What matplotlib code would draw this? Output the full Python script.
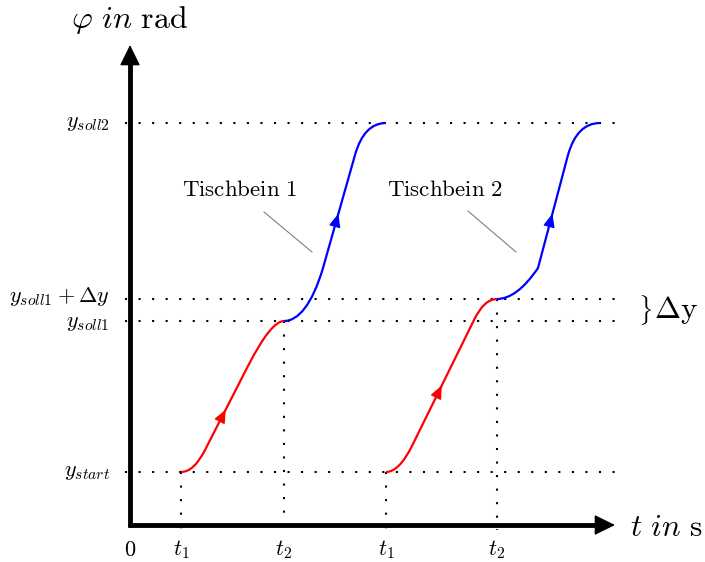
import numpy as np
import matplotlib
matplotlib.use("Agg")
import matplotlib.pyplot as plt
from matplotlib.path import Path
from matplotlib.patches import PathPatch

plt.rcParams['mathtext.fontset'] = 'cm'

# time ticks along the t axis and their labels
t_ticks = [0, 51, 154, 256, 367]
t_labels = [r'$0$', r'$t_1$', r'$t_2$', r'$t_1$', r'$t_2$']

# angle levels on the phi axis
y_levels = [53, 204, 226, 402]
y_labels = [r'$y_{start}$', r'$y_{soll1}$', r'$y_{soll1} + \Delta y$', r'$y_{soll2}$']

# curve control points (start, ramp-in, straight part, ramp-out)
red1 = [(51, 53), (64, 53), (75, 75), (118, 159), (141, 204), (154, 204)]
blue1 = [(154, 204), (168, 204), (182, 220), (193, 257), (225, 370), (234, 402), (256, 402)]
red2 = [(256, 53), (269, 53), (282, 79), (344, 205), (354, 226), (367, 226)]
blue2 = [(367, 226), (387, 226), (408, 257), (438, 370), (447, 402), (470, 402)]

Q = [Path.MOVETO, Path.CURVE3, Path.CURVE3, Path.LINETO, Path.CURVE3, Path.CURVE3]
C = [Path.MOVETO, Path.CURVE4, Path.CURVE4, Path.CURVE4, Path.LINETO, Path.CURVE3, Path.CURVE3]

curves = [(red1, Q, 'red'), (blue1, C, 'blue'), (red2, Q, 'red'), (blue2, Q, 'blue')]

fig = plt.figure(figsize=(7.05, 5.62), dpi=100)
ax = fig.add_axes([0, 0, 1, 1])
ax.set_xlim(-130, 575)
ax.set_ylim(-37, 525)
ax.axis('off')

dots = (0, (1, 5.5))
x_end = 485
y_end = 480

# horizontal guide lines
for y in y_levels:
    ax.plot([-5, x_end], [y, y], color='black', lw=1.5, linestyle=dots, zorder=1)

# vertical guide lines down to the t axis
ax.plot([t_ticks[1]] * 2, [y_levels[0], -5], color='black', lw=1.5, linestyle=dots, zorder=1)
ax.plot([t_ticks[2]] * 2, [y_levels[1], -5], color='black', lw=1.5, linestyle=dots, zorder=1)
ax.plot([t_ticks[3]] * 2, [y_levels[0], -5], color='black', lw=1.5, linestyle=dots, zorder=1)
ax.plot([t_ticks[4]] * 2, [y_levels[2], -5], color='black', lw=1.5, linestyle=dots, zorder=1)

# curves with direction arrows on the straight part
for pts, codes, col in curves:
    ax.add_patch(PathPatch(Path(pts, codes), fill=False, edgecolor=col, lw=1.6, zorder=3))
    i = codes.index(Path.LINETO)
    p0 = np.array(pts[i - 1], float)
    p1 = np.array(pts[i], float)
    d = (p1 - p0) / np.linalg.norm(p1 - p0)
    tip = p0 + 0.48 * (p1 - p0)
    ax.annotate('', xy=tip, xytext=tip - d * 4,
                arrowprops=dict(arrowstyle='-|>,head_length=0.8,head_width=0.35',
                                color=col, lw=1.0, shrinkA=0, shrinkB=0,
                                mutation_scale=10), zorder=4)

# axes with arrow heads
ax.plot([0, 0], [-2, y_end - 8], color='black', lw=3.5, solid_capstyle='butt', zorder=5)
ax.plot([-2, x_end - 8], [0, 0], color='black', lw=3.5, solid_capstyle='butt', zorder=5)
ax.annotate('', xy=(0, y_end), xytext=(0, y_end - 12),
            arrowprops=dict(arrowstyle='-|>,head_length=0.65,head_width=0.32',
                            color='black', lw=1, shrinkA=0, shrinkB=0, mutation_scale=20), zorder=6)
ax.annotate('', xy=(x_end, 0), xytext=(x_end - 12, 0),
            arrowprops=dict(arrowstyle='-|>,head_length=0.65,head_width=0.32',
                            color='black', lw=1, shrinkA=0, shrinkB=0, mutation_scale=20), zorder=6)

# tick labels
for t, lab in zip(t_ticks, t_labels):
    ax.text(t, -25, lab, ha='center', va='center', fontsize=16)
nudge = [0, -2, 2, 0]
for y, lab, dy in zip(y_levels, y_labels, nudge):
    ax.text(-20, y + dy, lab, ha='right', va='center', fontsize=16)

# axis titles
ax.text(0, 505, r'$\varphi\ in\ \mathrm{rad}$', ha='center', va='center', fontsize=23)
ax.text(500, -2, r'$t\ in\ \mathrm{s}$', ha='left', va='center', fontsize=22.5)

# labels for the two table legs
ax.text(110, 335, r'$\mathrm{Tischbein\ 1}$', ha='center', va='center', fontsize=16.5)
ax.plot([134, 182], [313, 273], color='gray', lw=0.8)
ax.text(315, 335, r'$\mathrm{Tischbein\ 2}$', ha='center', va='center', fontsize=16.5)
ax.plot([338, 386], [314, 273], color='gray', lw=0.8)

# brace for delta y
ax.text(515, 215, r'$\}$', ha='center', va='center', fontsize=18)
ax.text(524, 215, r'$\Delta\mathrm{y}$', ha='left', va='center', fontsize=22.5)

fig.savefig('out.png', dpi=100)
